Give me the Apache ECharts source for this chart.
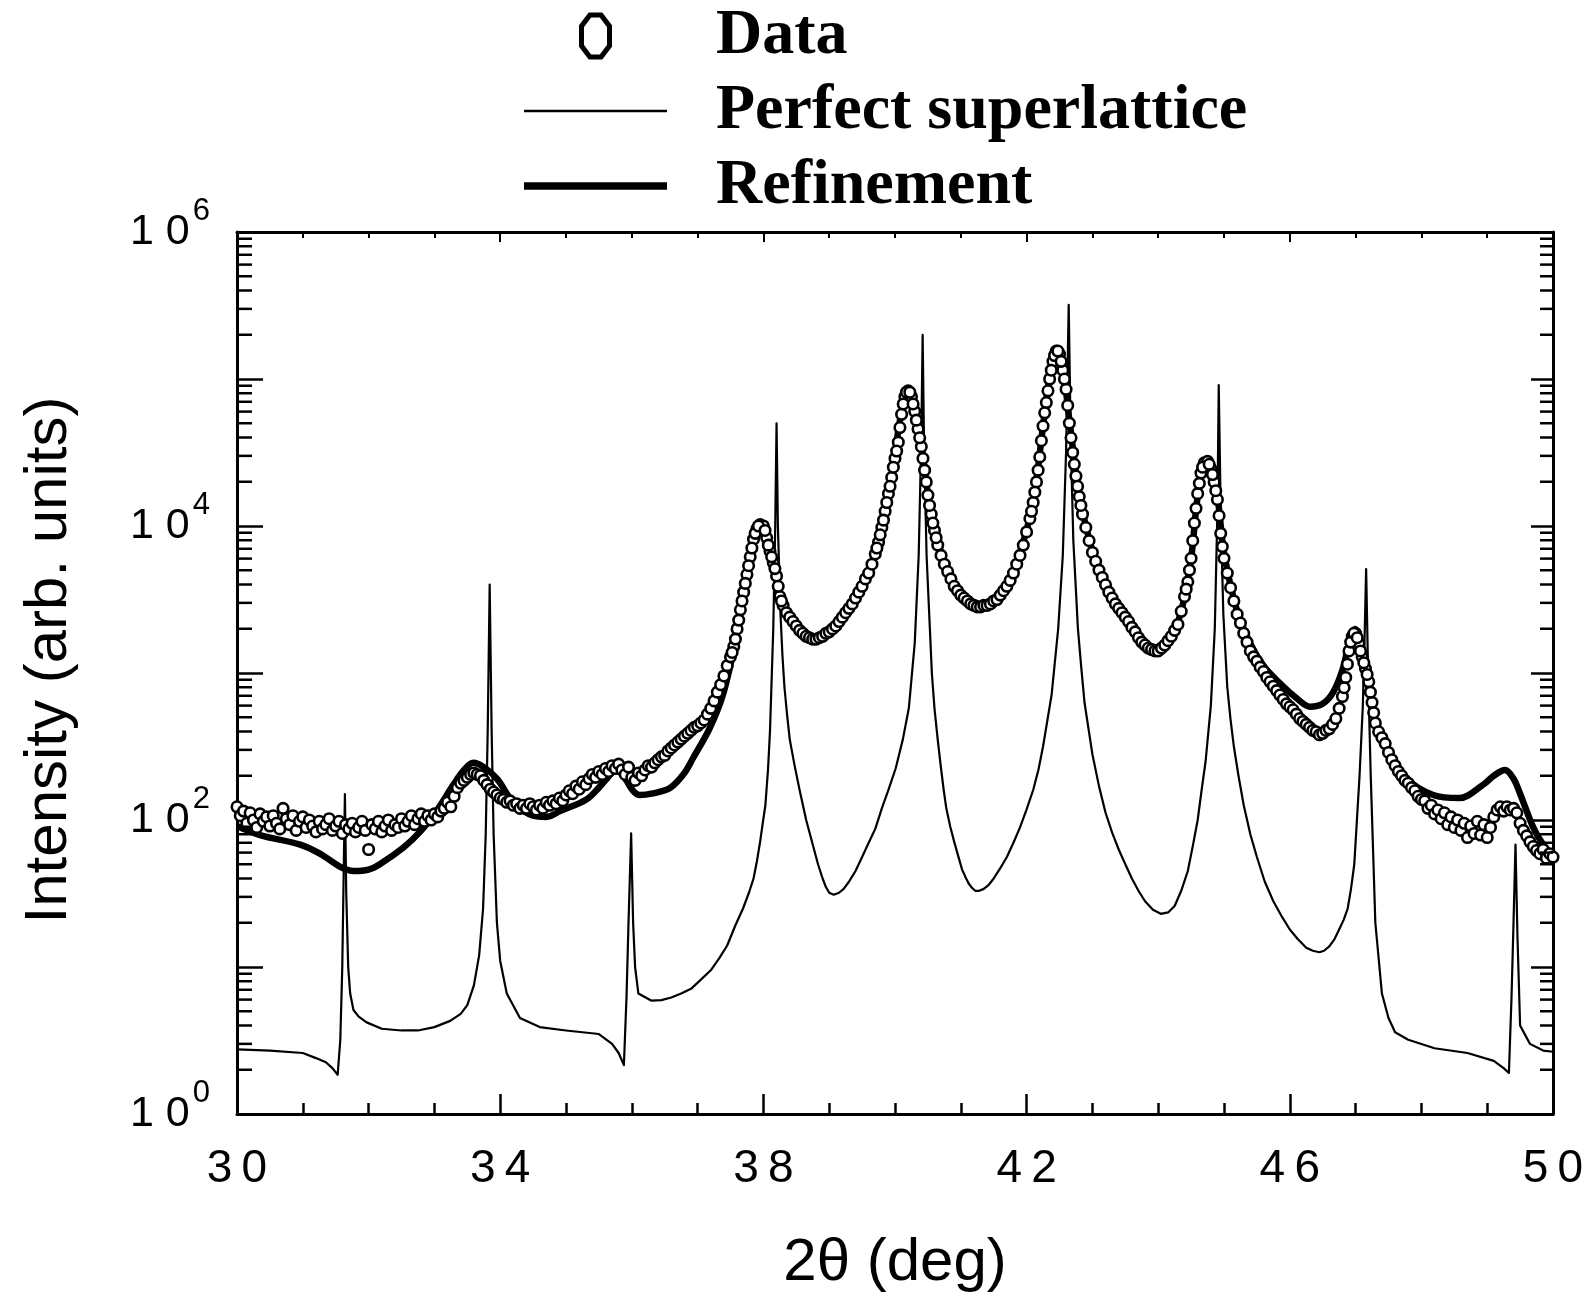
<!DOCTYPE html>
<html>
<head>
<meta charset="utf-8">
<script src="https://cdn.jsdelivr.net/npm/echarts@6/dist/echarts.min.js"></script>
<style>
html,body{margin:0;padding:0;background:#fff;}
#chart{width:1596px;height:1298px;}
</style>
</head>
<body>
<div id="chart"></div>
<script>
// ---------- DATA ----------
const xTickLabels = ['30', '34', '38', '42', '46', '50'];
const yLabelExponents = [0, 2, 4, 6];
const yMinorTickValues = [
  2,3,4,5,6,7,8,9, 20,30,40,50,60,70,80,90, 200,300,400,500,600,700,800,900,
  2000,3000,4000,5000,6000,7000,8000,9000, 20000,30000,40000,50000,60000,70000,80000,90000,
  200000,300000,400000,500000,600000,700000,800000,900000
];

// measured data (open circles), 2θ in deg
const dataX = [
  30,30.05,30.1,30.15,30.2,30.25,30.3,30.35,30.4,30.45,30.5,30.55,30.6,30.65,30.7,30.75,30.8,30.85,30.9,30.95,
  31,31.05,31.1,31.15,31.2,31.25,31.3,31.35,31.4,31.45,31.5,31.55,31.6,31.65,31.7,31.75,31.8,31.85,31.9,31.95,
  32,32.05,32.1,32.15,32.2,32.25,32.3,32.35,32.4,32.45,32.5,32.55,32.6,32.65,32.7,32.75,32.8,32.85,32.9,32.95,
  33,33.05,33.1,33.15,33.2,33.25,33.3,33.35,33.4,33.45,33.5,33.55,33.6,33.65,33.7,33.75,33.8,33.85,33.9,33.95,
  34,34.05,34.1,34.15,34.2,34.25,34.3,34.35,34.4,34.45,34.5,34.55,34.6,34.65,34.7,34.75,34.8,34.85,34.9,34.95,
  35,35.05,35.1,35.15,35.2,35.25,35.3,35.35,35.4,35.45,35.5,35.55,35.6,35.65,35.7,35.75,35.8,35.85,35.9,35.95,
  36,36.05,36.1,36.15,36.2,36.25,36.3,36.35,36.4,36.45,36.5,36.55,36.6,36.65,36.7,36.75,36.8,36.85,36.9,36.95,
  37,37.05,37.1,37.15,37.2,37.25,37.3,37.35,37.4,37.45,37.5,37.55,37.6,37.65,37.7,37.75,37.8,37.85,37.9,37.95,
  38,38.05,38.1,38.15,38.2,38.25,38.3,38.35,38.4,38.45,38.5,38.55,38.6,38.65,38.7,38.75,38.8,38.85,38.9,38.95,
  39,39.05,39.1,39.15,39.2,39.25,39.3,39.35,39.4,39.45,39.5,39.55,39.6,39.65,39.7,39.75,39.8,39.85,39.9,39.95,
  40,40.05,40.1,40.15,40.2,40.25,40.3,40.35,40.4,40.45,40.5,40.55,40.6,40.65,40.7,40.75,40.8,40.85,40.9,40.95,
  41,41.05,41.1,41.15,41.2,41.25,41.3,41.35,41.4,41.45,41.5,41.55,41.6,41.65,41.7,41.75,41.8,41.85,41.9,41.95,
  42,42.05,42.1,42.15,42.2,42.25,42.3,42.35,42.4,42.45,42.5,42.55,42.6,42.65,42.7,42.75,42.8,42.85,42.9,42.95,
  43,43.05,43.1,43.15,43.2,43.25,43.3,43.35,43.4,43.45,43.5,43.55,43.6,43.65,43.7,43.75,43.8,43.85,43.9,43.95,
  44,44.05,44.1,44.15,44.2,44.25,44.3,44.35,44.4,44.45,44.5,44.55,44.6,44.65,44.7,44.75,44.8,44.85,44.9,44.95,
  45,45.05,45.1,45.15,45.2,45.25,45.3,45.35,45.4,45.45,45.5,45.55,45.6,45.65,45.7,45.75,45.8,45.85,45.9,45.95,
  46,46.05,46.1,46.15,46.2,46.25,46.3,46.35,46.4,46.45,46.5,46.55,46.6,46.65,46.7,46.75,46.8,46.85,46.9,46.95,
  47,47.05,47.1,47.15,47.2,47.25,47.3,47.35,47.4,47.45,47.5,47.55,47.6,47.65,47.7,47.75,47.8,47.85,47.9,47.95,
  48,48.05,48.1,48.15,48.2,48.25,48.3,48.35,48.4,48.45,48.5,48.55,48.6,48.65,48.7,48.75,48.8,48.85,48.9,48.95,
  49,49.05,49.1,49.15,49.2,49.25,49.3,49.35,49.4,49.45,49.5,49.55,49.6,49.65,49.7,49.75,49.8,49.85,49.9,49.95,
  50
];
const dataY = [
  123,107,115,95,112,100,89,110,98,105,91,107,95,87,120,102,93,107,85,98,
  105,89,100,91,83,98,87,93,102,85,91,98,81,93,87,95,83,89,98,85,
  63,93,87,98,83,91,100,85,93,89,102,91,98,107,93,102,110,98,107,100,
  110,105,115,120,132,123,145,166,178,186,195,204,209,204,200,186,174,162,155,148,
  141,138,132,135,126,129,120,126,120,129,123,117,126,120,132,126,135,129,141,135,
  148,158,151,170,162,182,174,191,204,195,214,204,224,214,234,224,240,219,204,229,
  195,186,209,200,219,234,229,245,257,269,275,295,309,324,339,355,372,389,407,427,
  437,457,479,525,575,646,741,832,955,1122,1288,1514,1995,2692,3548,4677,6166,8128,9550,10230,
  10000,8318,6761,5623,4571,3311,2884,2570,2399,2239,2089,1950,1862,1778,1738,1698,1698,1738,1778,1862,
  1905,1995,2089,2239,2399,2570,2754,2951,3236,3548,3890,4365,4786,5495,6457,7762,9772,12590,16600,21380,
  28840,37150,57540,75860,83180,75860,60260,45710,34670,23990,16220,12020,9333,7413,6310,5495,4898,4365,3890,3631,
  3388,3236,3090,2951,2884,2818,2818,2884,2884,2951,3090,3162,3388,3631,3890,4266,4786,5495,6310,7413,
  9120,11220,14450,19950,29510,47860,69180,100000,131800,154900,147900,114800,85110,50120,31620,21880,15850,12020,9772,7943,
  6607,5754,5012,4467,3981,3548,3236,2951,2754,2570,2399,2239,2042,1905,1738,1622,1549,1479,1445,1413,
  1413,1479,1549,1660,1778,1950,2138,2630,3311,4169,6026,10470,16600,22910,26920,27540,24550,19950,15140,8913,
  6026,4786,3802,3090,2512,2188,1862,1622,1413,1288,1202,1096,1023,933,871,813,759,708,661,617,
  589,562,525,490,468,447,427,407,398,380,389,407,417,447,490,575,692,933,1413,1778,
  1862,1585,1288,1072,871,631,457,398,363,331,288,257,234,214,200,186,178,166,158,145,
  138,135,120,126,110,117,102,112,93,105,89,100,85,95,76,91,81,98,79,93,
  76,89,105,117,123,115,123,117,120,112,95,85,78,71,66,62,59,63,55,59,
  56
];
// extra data circles read on the steep flanks of the peaks (denser sampling there)
const dataFlankX = [
  37.525,37.575,37.625,37.675,37.725,37.775,37.825,37.875,37.925,38.025,38.075,38.125,38.175,38.225,38.275,
  39.725,39.775,39.825,39.875,39.925,39.975,40.025,40.075,40.125,40.175,40.225,40.275,40.325,40.375,40.425,40.475,40.525,40.575,40.625,
  42.075,42.125,42.175,42.225,42.275,42.325,42.375,42.425,42.475,42.525,42.575,42.625,42.675,42.725,42.775,42.825,
  44.425,44.475,44.525,44.575,44.625,44.675,44.775,44.825,44.875,44.925,44.975,
  46.825,46.875,46.925,46.975,47.025,47.075,47.125,47.175,47.225,47.275
];
const dataFlankY = [
  1380,1700,2290,3090,4070,5370,7080,8910,10000,9330,7410,6170,5130,3890,3090,
  7080,8710,10960,14450,18620,25120,32360,46770,67610,81280,81280,67610,52480,39810,28840,19950,13800,10470,8320,
  12590,16980,23990,38020,58880,83180,114800,144500,154900,131800,100000,66070,39810,26300,18620,13800,
  3720,5010,7940,13180,19500,25120,26300,22390,17380,11750,7240,
  794,1148,1622,1862,1738,1413,1175,977,741,537
];

// perfect superlattice (thin line)
const perfectX = [
  30,30.5,31,31.2,31.35,31.45,31.53,31.57,31.6,31.62,31.64,31.66,31.69,31.72,31.77,31.85,31.97,32.2,32.5,32.75,
  33,33.24,33.4,33.5,33.6,33.68,33.74,33.78,33.81,33.84,33.87,33.9,33.95,34,34.1,34.3,34.6,35,35.5,35.7,
  35.8,35.88,35.92,35.95,35.99,36.02,36.05,36.1,36.3,36.45,36.6,36.75,36.9,37.05,37.2,37.33,37.45,37.57,37.69,37.78,
  37.85,37.9,37.95,37.99,38.03,38.07,38.1,38.15,38.18,38.2,38.22,38.26,38.29,38.32,38.36,38.4,38.47,38.55,38.65,38.77,
  38.83,38.9,38.95,39,39.07,39.15,39.22,39.3,39.4,39.5,39.6,39.7,39.8,39.9,40.01,40.12,40.21,40.3,40.36,40.4,
  40.42,40.44,40.48,40.53,40.56,40.6,40.65,40.7,40.74,40.78,40.84,40.9,40.96,41.02,41.07,41.12,41.17,41.22,41.28,41.35,
  41.42,41.5,41.6,41.7,41.8,41.9,42,42.1,42.18,42.25,42.38,42.48,42.55,42.6,42.64,42.67,42.71,42.78,42.83,42.88,
  42.94,43,43.1,43.2,43.3,43.4,43.5,43.6,43.7,43.8,43.92,44.04,44.15,44.25,44.35,44.45,44.53,44.6,44.66,44.72,
  44.8,44.86,44.9,44.92,44.95,44.99,45.05,45.1,45.15,45.22,45.3,45.4,45.5,45.62,45.75,45.88,46,46.12,46.25,46.35,
  46.45,46.52,46.6,46.68,46.75,46.82,46.88,46.93,46.98,47.02,47.06,47.11,47.14,47.16,47.19,47.23,47.3,47.4,47.5,47.6,
  47.8,48.2,48.7,49.1,49.25,49.33,49.37,49.4,49.43,49.46,49.5,49.65,49.85,50
];
const perfectY = [
  2.75,2.7,2.6,2.4,2.25,2.05,1.85,3.2,10,40,150,32,10,6.6,5.1,4.6,4.2,3.8,3.7,3.7,
  3.9,4.3,4.8,5.5,7.5,12,25,80,400,4000,400,80,20,11,6.6,4.5,3.9,3.7,3.5,3.0,
  2.6,2.15,6.3,20,81,20,10,6.6,5.9,5.95,6.2,6.6,7.1,8.2,9.5,11.5,14,19,25,32,
  40,52,71,95,126,220,400,2000,10000,50000,10000,2500,1300,800,520,355,240,160,100,63,
  50,40,35,32,31,32,34,38,45,56,70,87,120,160,224,355,575,1600,6300,40000,
  200000,40000,6300,2000,1000,575,350,224,160,120,90,71,57,46,41,37,34.5,33,33,34,
  36,40,47,56,70,89,118,160,220,316,710,2000,6300,32000,320000,40000,8000,2000,1100,630,
  420,280,170,112,82,63,50,40,33,28,24.5,23,23.5,26,33,45,68,100,160,250,
  600,2000,12600,91000,12600,2500,800,480,316,200,126,80,56,38,28,22,18,15.5,13.5,12.9,
  12.6,12.9,13.8,15.5,18,21,25,34,50,100,200,600,2000,5100,1000,200,20,6.6,4.5,3.6,
  3.2,2.8,2.6,2.3,2.05,1.9,6.3,20,68,16,4.0,3.0,2.7,2.65
];

// refinement (thick line)
const refineX = [
  30,30.35,30.96,31.26,31.57,31.77,32,32.17,32.53,32.78,33.03,33.29,33.45,33.59,33.75,33.95,34.2,34.5,34.7,34.91,
  35.31,35.5,35.62,35.77,35.9,36.02,36.12,36.3,36.58,36.8,36.93,37.19,37.39,37.59,37.7,37.8,37.9,37.97,38.05,38.15,
  38.25,38.4,38.6,38.8,39,39.2,39.4,39.6,39.8,39.95,40.1,40.2,40.3,40.4,40.5,40.6,40.8,41,41.25,41.5,
  41.7,41.9,42.1,42.25,42.35,42.45,42.55,42.65,42.8,43,43.2,43.5,43.75,44,44.2,44.35,44.5,44.6,44.72,44.8,
  44.9,45,45.2,45.4,45.6,45.85,46.1,46.31,46.5,46.66,46.8,46.9,46.99,47.1,47.27,47.47,47.78,48.18,48.58,48.94,
  49.1,49.27,49.4,49.5,49.7,49.85,50
];
const refineY = [
  91,79,68,59,48,45,46,50,65,83,115,174,219,245,229,191,132,107,105,115,
  138,166,191,224,191,158,148,151,165,209,263,427,724,1778,3548,6166,9550,10470,8913,5623,
  3548,2399,1862,1660,1862,2344,3162,4786,9550,22390,60260,85110,63100,35480,16600,9333,5012,3467,2884,3090,
  3981,6607,14790,47860,102300,154900,117500,52480,16600,6761,4074,2455,1660,1479,1820,2630,6026,15850,26920,25120,
  15850,6607,2630,1585,1122,851,676,589,617,741,1047,1585,1995,1413,537,324,191,148,141,174,
  200,219,191,151,89,68,56
];

// ---------- CHART ----------
const zip = (xs, ys) => xs.map((x, i) => [x, ys[i]]);
const chart = echarts.init(document.getElementById('chart'), null, {renderer: 'canvas'});
const SANS = 'Liberation Sans';
const axisLineStyle = {color: '#000', width: 3};

const option = {
  animation: false,
  backgroundColor: '#fff',
  grid: {left: 237, right: 43, top: 232, bottom: 176, containLabel: false},
  legend: {
    orient: 'vertical', left: 524, top: 3, padding: 0,
    itemWidth: 143, itemHeight: 42, itemGap: 9, selectedMode: false,
    textStyle: {fontFamily: 'Liberation Serif', fontWeight: 'bold', fontSize: 64, color: '#000', lineHeight: 66, padding: [0, 0, 0, 44]},
    data: [
      {name: 'Data', icon: 'path://M6,0L14,0L20,8L20,22L14,30L6,30L0,22L0,8Z', itemStyle: {color: '#fff', borderColor: '#000', borderWidth: 5}},
      {name: 'Perfect superlattice', icon: 'path://M0,0L143,0L143,2.6L0,2.6Z', itemStyle: {color: '#000', borderWidth: 0}},
      {name: 'Refinement', icon: 'path://M0,0L143,0L143,7.5L0,7.5Z', itemStyle: {color: '#000', borderWidth: 0}}
    ]
  },
  xAxis: [
    {
      type: 'value', min: 30, max: 50, interval: 4, position: 'bottom',
      axisLine: {show: true, onZero: false, lineStyle: axisLineStyle},
      axisTick: {show: true, inside: true, length: 20, lineStyle: {color: '#000', width: 2.5}},
      minorTick: {show: true, splitNumber: 4, length: 11, lineStyle: {color: '#000', width: 2.5}},
      splitLine: {show: false},
      axisLabel: {
        margin: 32, fontSize: 46, fontFamily: SANS, color: '#000',
        formatter: v => {
          const s = xTickLabels.find(t => Number(t) === Math.round(v));
          return s ? s.split('').join('\u2009') : '';
        }
      },
      name: '2θ (deg)', nameLocation: 'middle', nameGap: 119,
      nameTextStyle: {fontSize: 60, fontFamily: SANS, color: '#000'}
    },
    {
      type: 'value', min: 30, max: 50, interval: 4, position: 'top',
      axisLine: {show: true, onZero: false, lineStyle: axisLineStyle},
      axisTick: {show: true, inside: true, length: 10, lineStyle: {color: '#000', width: 2}},
      minorTick: {show: true, splitNumber: 4, length: 6, lineStyle: {color: '#000', width: 2}},
      splitLine: {show: false},
      axisLabel: {show: false}
    }
  ],
  yAxis: [
    {
      type: 'log', logBase: 10, min: 1, max: 1e6, position: 'left',
      axisLine: {show: true, onZero: false, lineStyle: axisLineStyle},
      axisTick: {show: true, inside: true, length: 26, lineStyle: {color: '#000', width: 2.5}},
      splitLine: {show: false},
      axisLabel: {
        margin: 27, color: '#000',
        formatter: v => {
          const e = Math.round(Math.log10(v));
          return yLabelExponents.includes(e) ? '{b|1 0}{s|' + e + '}' : '';
        },
        rich: {
          b: {fontSize: 43, fontFamily: SANS, color: '#000', lineHeight: 43},
          s: {fontSize: 31, fontFamily: SANS, color: '#000', lineHeight: 31, padding: [0, 0, 42, 3]}
        }
      },
      name: 'Intensity (arb. units)', nameLocation: 'middle', nameGap: 158, nameRotate: 90,
      nameTextStyle: {fontSize: 60, fontFamily: SANS, color: '#000', padding: [0, 0, 0, 26]}
    },
    {
      type: 'log', logBase: 10, min: 1, max: 1e6, position: 'right',
      axisLine: {show: true, onZero: false, lineStyle: axisLineStyle},
      axisTick: {show: true, inside: true, length: 22, lineStyle: {color: '#000', width: 2.5}},
      splitLine: {show: false},
      axisLabel: {show: false}
    }
  ],
  series: [
    {
      name: 'Refinement', type: 'line', xAxisIndex: 0, yAxisIndex: 0,
      data: zip(refineX, refineY), symbol: 'none', smooth: 0.35,
      lineStyle: {color: '#000', width: 6.5}, itemStyle: {color: '#000'}, z: 2
    },
    {
      name: 'Perfect superlattice', type: 'line', xAxisIndex: 0, yAxisIndex: 0,
      data: zip(perfectX, perfectY), symbol: 'none',
      lineStyle: {color: '#000', width: 2.2, join: 'round'}, itemStyle: {color: '#000'}, z: 3
    },
    {
      name: 'Data', type: 'scatter', xAxisIndex: 0, yAxisIndex: 0,
      data: zip(dataX, dataY).concat(zip(dataFlankX, dataFlankY)), symbol: 'circle', symbolSize: 10.5,
      itemStyle: {color: '#fff', borderColor: '#000', borderWidth: 2.6, opacity: 1}, z: 4
    },
    {
      name: 'yMinorTicks', type: 'custom', xAxisIndex: 0, yAxisIndex: 0, silent: true, clip: false, z: 6,
      data: yMinorTickValues.map(v => [30, v]),
      renderItem: (params, api) => {
        const v = api.value(1);
        const pl = api.coord([30, v]);
        const pr = api.coord([50, v]);
        const st = {stroke: '#000', lineWidth: 2.5};
        return {type: 'group', children: [
          {type: 'line', shape: {x1: pl[0], y1: pl[1], x2: pl[0] + 15, y2: pl[1]}, style: st},
          {type: 'line', shape: {x1: pr[0] - 13, y1: pr[1], x2: pr[0], y2: pr[1]}, style: st}
        ]};
      }
    }
  ]
};
chart.setOption(option);
</script>
</body>
</html>
